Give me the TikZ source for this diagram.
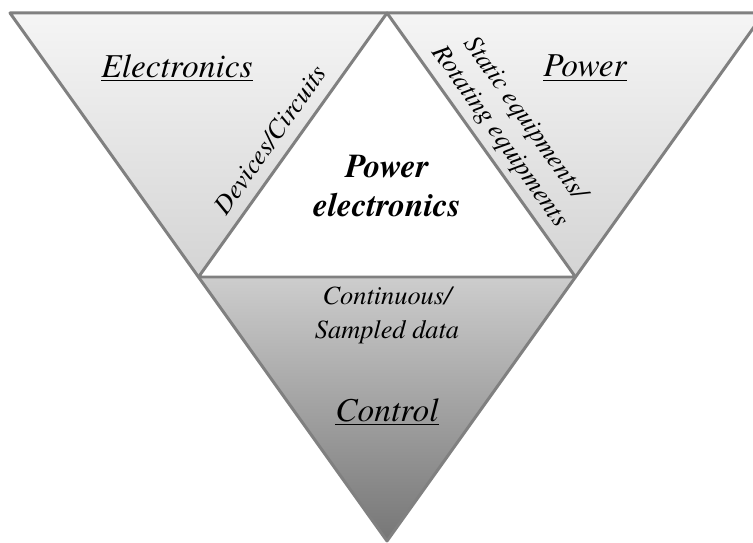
\documentclass[tikz,border=0pt]{standalone}
\usepackage{fontspec}
\setmainfont{texgyretermes}[Extension=.otf, UprightFont=*-regular, ItalicFont=*-italic, BoldFont=*-bold, BoldItalicFont=*-bolditalic]
\definecolor{edgegray}{RGB}{128,128,128}
\definecolor{paleTop}{RGB}{245,245,245}
\definecolor{paleBot}{RGB}{212,212,212}
\definecolor{darkTop}{RGB}{205,205,205}
\definecolor{darkBot}{RGB}{118,118,118}
\begin{document}
\begin{tikzpicture}[x=0.02cm, y=-0.02cm]
  \tikzstyle{edge} = [draw=edgegray, line width=1.7pt, line join=round]
  \tikzstyle{title} = [font=\rmfamily\fontsize{19}{22}\selectfont\itshape]
  \tikzstyle{sub} = [font=\rmfamily\fontsize{15}{17.5}\selectfont\itshape, align=center]
  \useasboundingbox (0,0) rectangle (753,543);
  \clip (0,0) rectangle (753,543);
  \coordinate (TL) at (10,13);
  \coordinate (TM) at (387,13);
  \coordinate (TR) at (764,13);
  \coordinate (ML) at (198.5,277);
  \coordinate (MR) at (575.5,277);
  \coordinate (B) at (387,541);
  % four triangles
  \fill[top color=paleTop, bottom color=paleBot] (TL) -- (TM) -- (ML) -- cycle;
  \fill[top color=paleTop, bottom color=paleBot] (TM) -- (TR) -- (MR) -- cycle;
  \fill[white] (ML) -- (TM) -- (MR) -- cycle;
  \fill[top color=darkTop, bottom color=darkBot] (ML) -- (MR) -- (B) -- cycle;
  \draw[edge] (TL) -- (TR) -- (B) -- cycle;
  \draw[edge] (ML) -- (TM) -- (MR) -- cycle;
  % labels
  \node[title] (elec) at (177,68) {\underline{Electronics}};
  \node[title] (pow) at (585,68) {\underline{Power}};
  \node[title] (ctrl) at (387,412) {\underline{Control}};
  \node[font=\rmfamily\fontsize{19}{22}\selectfont\bfseries\itshape, align=center] (pe) at (387,186) {Power\\electronics};
  \node[sub, rotate=54.7] (dev) at (270,140) {Devices/Circuits};
  \node[sub, rotate=-54.7] (equip) at (512,128) {Static equipments/\\Rotating equipments};
  \node[font=\rmfamily\fontsize{15}{19.3}\selectfont\itshape, align=center] (data) at (387,315) {Continuous/\\Sampled data};
\end{tikzpicture}
\end{document}
